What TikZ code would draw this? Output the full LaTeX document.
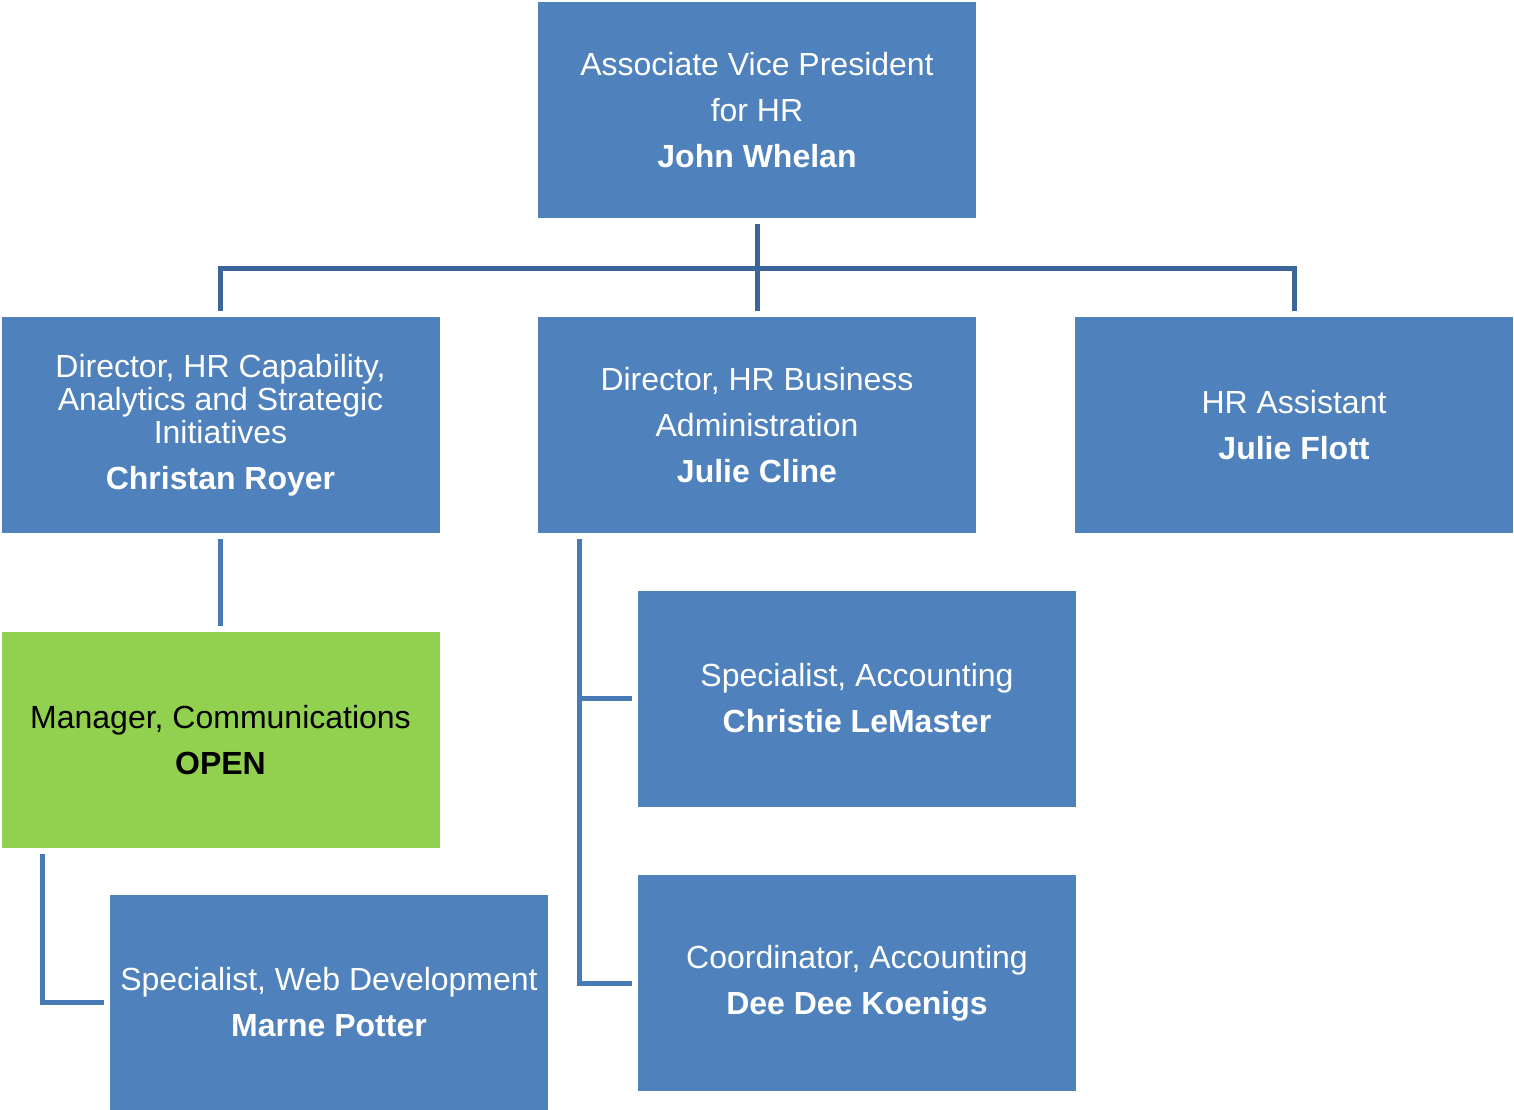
\documentclass[tikz,border=0pt]{standalone}
\usepackage{fontspec}
\setmainfont{Liberation Sans}
\definecolor{boxblue}{RGB}{79,129,189}
\definecolor{boxgreen}{RGB}{146,208,80}
\definecolor{linedark}{RGB}{60,101,153}
\definecolor{linemid}{RGB}{72,122,181}
\begin{document}
\begin{tikzpicture}[x=1pt, y=-1pt,
  box/.style={fill=boxblue, text=white, minimum width=438pt, minimum height=216pt,
    inner sep=0pt, align=center, font=\fontsize{32}{33}\selectfont},
  openbox/.style={box, fill=boxgreen, text=black},
  toplink/.style={draw=linedark, line width=5pt, shorten <=6pt, shorten >=6pt},
  sublink/.style={draw=linemid, line width=5pt, shorten <=6pt, shorten >=6pt}]
  \useasboundingbox (0,0) rectangle (1514,1110);
  % Top level
  \node[box] (avp) at (757,110) {Associate Vice President\\[13pt]for HR\\[13pt]\textbf{John Whelan}};
  % Directors and assistant
  \node[box] (dircap) at (220.5,425) {Director, HR Capability,\\Analytics and Strategic\\Initiatives\\[13pt]\textbf{Christan Royer}};
  \node[box] (dirbiz) at (757,425) {Director, HR Business\\[13pt]Administration\\[13pt]\textbf{Julie Cline}};
  \node[box] (asst) at (1294,425) {HR Assistant\\[13pt]\textbf{Julie Flott}};
  % Lower staff
  \node[openbox] (mgr) at (220.5,740) {Manager, Communications\\[13pt]\textbf{OPEN}};
  \node[box] (web) at (329,1002.5) {Specialist, Web Development\\[13pt]\textbf{Marne Potter}};
  \node[box] (acct) at (857,698.5) {Specialist, Accounting\\[13pt]\textbf{Christie LeMaster}};
  \node[box] (coord) at (857,983) {Coordinator, Accounting\\[13pt]\textbf{Dee Dee Koenigs}};
  % Connectors
  \coordinate (bus) at (757,268);
  \draw[toplink] (avp.south) -- (dirbiz.north);
  \draw[toplink] (dircap.north) |- (bus) -| (asst.north);
  \draw[sublink] (dircap.south) -- (mgr.north);
  \draw[sublink] ([xshift=41pt]mgr.south west) |- (web.west);
  \draw[sublink] ([xshift=42pt]dirbiz.south west) |- (acct.west);
  \draw[sublink] ([xshift=42pt]dirbiz.south west) |- (coord.west);
\end{tikzpicture}
\end{document}
